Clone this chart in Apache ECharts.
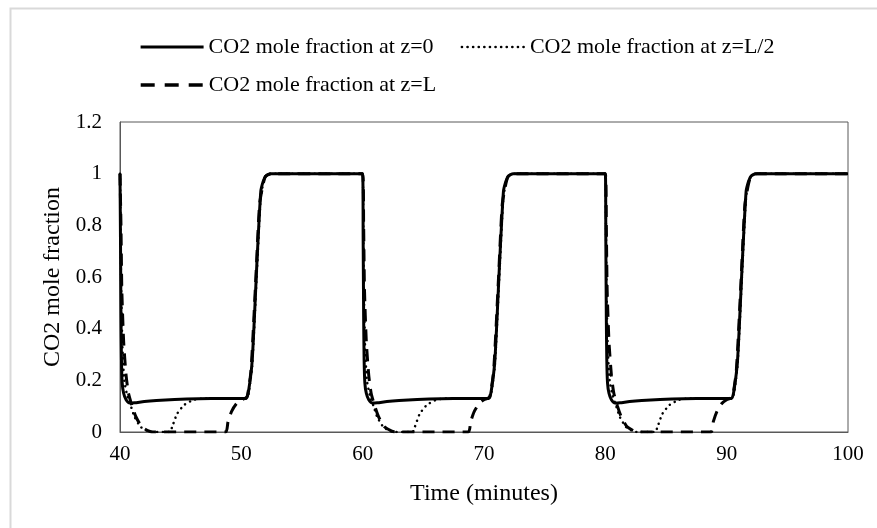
<!DOCTYPE html>
<html>
<head>
<meta charset="utf-8">
<script src="https://cdn.jsdelivr.net/npm/echarts@6/dist/echarts.min.js"></script>
<style>html,body{margin:0;padding:0;background:#fff}#c{width:877px;height:528px}</style>
</head>
<body>
<div id="c"></div>
<script>
var legendNames = ['CO2 mole fraction at z=0', 'CO2 mole fraction at z=L/2', 'CO2 mole fraction at z=L'];
var xTicks = [40, 50, 60, 70, 80, 90, 100];
var yTicks = [0, 0.2, 0.4, 0.6, 0.8, 1, 1.2];

var seriesZ0 = [
  [40,1.0],[40.04,0.75],[40.08,0.45],[40.12,0.28],[40.18,0.19],[40.3,0.15],[40.5,0.125],[40.8,0.112],[41.2,0.113],[42,0.118],[43,0.122],[44.5,0.126],[46.5,0.129],[48.5,0.13],[50.4,0.13],[50.6,0.16],[50.9,0.28],[51.3,0.67],[51.6,0.93],[51.8,0.97],[52.0,0.99],[52.4,1.0],
  [60,1.0],[60.04,0.75],[60.08,0.45],[60.12,0.28],[60.18,0.19],[60.3,0.15],[60.5,0.125],[60.8,0.112],[61.2,0.113],[62,0.118],[63,0.122],[64.5,0.126],[66.5,0.129],[68.5,0.13],[70.4,0.13],[70.6,0.16],[70.9,0.28],[71.3,0.67],[71.6,0.93],[71.8,0.97],[72.0,0.99],[72.4,1.0],
  [80,1.0],[80.04,0.75],[80.08,0.45],[80.12,0.28],[80.18,0.19],[80.3,0.15],[80.5,0.125],[80.8,0.112],[81.2,0.113],[82,0.118],[83,0.122],[84.5,0.126],[86.5,0.129],[88.5,0.13],[90.4,0.13],[90.6,0.16],[90.9,0.28],[91.3,0.67],[91.6,0.93],[91.8,0.97],[92.0,0.99],[92.4,1.0],
  [100,1.0]
];
var seriesZHalf = [
  [40,1.0],[40.05,0.8],[40.1,0.55],[40.2,0.33],[40.35,0.2],[40.6,0.14],[40.9,0.1],[41.2,0.058],[41.7,0.02],[42.3,0.003],[42.6,0],[44.1,0],[44.3,0.02],[44.7,0.07],[45.3,0.105],[46.1,0.125],[47,0.13],[50.4,0.13],[50.6,0.15],[50.9,0.26],[51.3,0.64],[51.6,0.91],[51.8,0.96],[52.0,0.99],[52.4,1.0],
  [60,1.0],[60.05,0.8],[60.1,0.55],[60.2,0.33],[60.35,0.2],[60.6,0.14],[60.9,0.1],[61.2,0.058],[61.7,0.02],[62.3,0.003],[62.6,0],[64.1,0],[64.3,0.02],[64.7,0.07],[65.3,0.105],[66.1,0.125],[67,0.13],[70.4,0.13],[70.6,0.15],[70.9,0.26],[71.3,0.64],[71.6,0.91],[71.8,0.96],[72.0,0.99],[72.4,1.0],
  [80,1.0],[80.05,0.8],[80.1,0.55],[80.2,0.33],[80.35,0.2],[80.6,0.14],[80.9,0.1],[81.2,0.058],[81.7,0.02],[82.3,0.003],[82.6,0],[84.1,0],[84.3,0.02],[84.7,0.07],[85.3,0.105],[86.1,0.125],[87,0.13],[90.4,0.13],[90.6,0.15],[90.9,0.26],[91.3,0.64],[91.6,0.91],[91.8,0.96],[92.0,0.99],[92.4,1.0],
  [100,1.0]
];
var seriesZL = [
  [40,1.0],[40.08,0.8],[40.15,0.55],[40.3,0.35],[40.5,0.22],[40.7,0.15],[41.0,0.1],[41.3,0.06],[41.8,0.02],[42.4,0.003],[42.7,0],[48.7,0],[48.9,0.04],[49.2,0.08],[49.6,0.11],[50.0,0.125],[50.3,0.13],[50.5,0.14],[50.8,0.24],[51.2,0.6],[51.5,0.88],[51.8,0.96],[52.0,0.99],[52.5,1.0],
  [60,1.0],[60.08,0.8],[60.15,0.55],[60.3,0.35],[60.5,0.22],[60.7,0.15],[61.0,0.1],[61.3,0.06],[61.8,0.02],[62.4,0.003],[62.7,0],[68.7,0],[68.9,0.04],[69.2,0.08],[69.6,0.11],[70.0,0.125],[70.3,0.13],[70.5,0.14],[70.8,0.24],[71.2,0.6],[71.5,0.88],[71.8,0.96],[72.0,0.99],[72.5,1.0],
  [80,1.0],[80.08,0.8],[80.15,0.55],[80.3,0.35],[80.5,0.22],[80.7,0.15],[81.0,0.1],[81.3,0.06],[81.8,0.02],[82.4,0.003],[82.7,0],[88.7,0],[88.9,0.04],[89.2,0.08],[89.6,0.11],[90.0,0.125],[90.3,0.13],[90.5,0.14],[90.8,0.24],[91.2,0.6],[91.5,0.88],[91.8,0.96],[92.0,0.99],[92.5,1.0],
  [100,1.0]
];

var FONT = 'Liberation Serif';
var chart = echarts.init(document.getElementById('c'), null, {renderer: 'canvas'});
var legendText = {fontFamily: FONT, fontSize: 22, color: '#000'};
var legendItemStyle = {color: 'transparent', borderColor: 'transparent', borderWidth: 0, opacity: 0};
chart.setOption({
  backgroundColor: '#fff',
  animation: false,
  graphic: [{
    type: 'rect', left: 8, top: 6, silent: true,
    shape: {width: 900, height: 600},
    style: {fill: 'none', stroke: '#d9d9d9', lineWidth: 2}
  }],
  legend: [{
    data: [
      {name: legendNames[0], lineStyle: {width: 3.2}},
      {name: legendNames[1], lineStyle: {width: 2.6}}
    ],
    left: 134, top: 31, itemWidth: 63, itemHeight: 14, itemGap: 27,
    itemStyle: legendItemStyle,
    textStyle: legendText
  }, {
    data: [{name: legendNames[2], lineStyle: {width: 3.4, type: [14, 10]}}],
    left: 134, top: 69, itemWidth: 63, itemHeight: 14,
    itemStyle: legendItemStyle,
    textStyle: legendText
  }],
  grid: {left: 120, right: 29, top: 122, bottom: 96, show: true, borderColor: '#595959', borderWidth: 1, containLabel: false},
  xAxis: {
    type: 'value', min: xTicks[0], max: xTicks[xTicks.length - 1], interval: 10,
    name: 'Time (minutes)', nameLocation: 'middle', nameGap: 50,
    nameTextStyle: {fontFamily: FONT, fontSize: 24, color: '#000'},
    axisLine: {show: true, lineStyle: {color: '#595959', width: 1}},
    axisTick: {show: false},
    splitLine: {show: false},
    axisLabel: {fontFamily: FONT, fontSize: 21, color: '#000', margin: 12}
  },
  yAxis: {
    type: 'value', min: yTicks[0], max: yTicks[yTicks.length - 1], interval: 0.2,
    name: 'CO2 mole fraction', nameLocation: 'middle', nameGap: 55,
    nameTextStyle: {fontFamily: FONT, fontSize: 24, color: '#000'},
    axisLine: {show: true, lineStyle: {color: '#595959', width: 1}},
    axisTick: {show: false},
    splitLine: {show: false},
    axisLabel: {fontFamily: FONT, fontSize: 21, color: '#000', margin: 18}
  },
  series: [{
    name: legendNames[2], type: 'line', data: seriesZL, symbol: 'none', showSymbol: false, smooth: 0.2, z: 2,
    lineStyle: {color: '#000', width: 3, type: [12, 8]}, itemStyle: {color: '#000'}
  }, {
    name: legendNames[1], type: 'line', data: seriesZHalf, symbol: 'none', showSymbol: false, smooth: 0.2, z: 3,
    lineStyle: {color: '#000', width: 2.5, type: [0.1, 5.5], cap: 'round'}, itemStyle: {color: '#000'}
  }, {
    name: legendNames[0], type: 'line', data: seriesZ0, symbol: 'none', showSymbol: false, smooth: 0.2, z: 4,
    lineStyle: {color: '#000', width: 3}, itemStyle: {color: '#000'}
  }]
});
</script>
</body>
</html>
